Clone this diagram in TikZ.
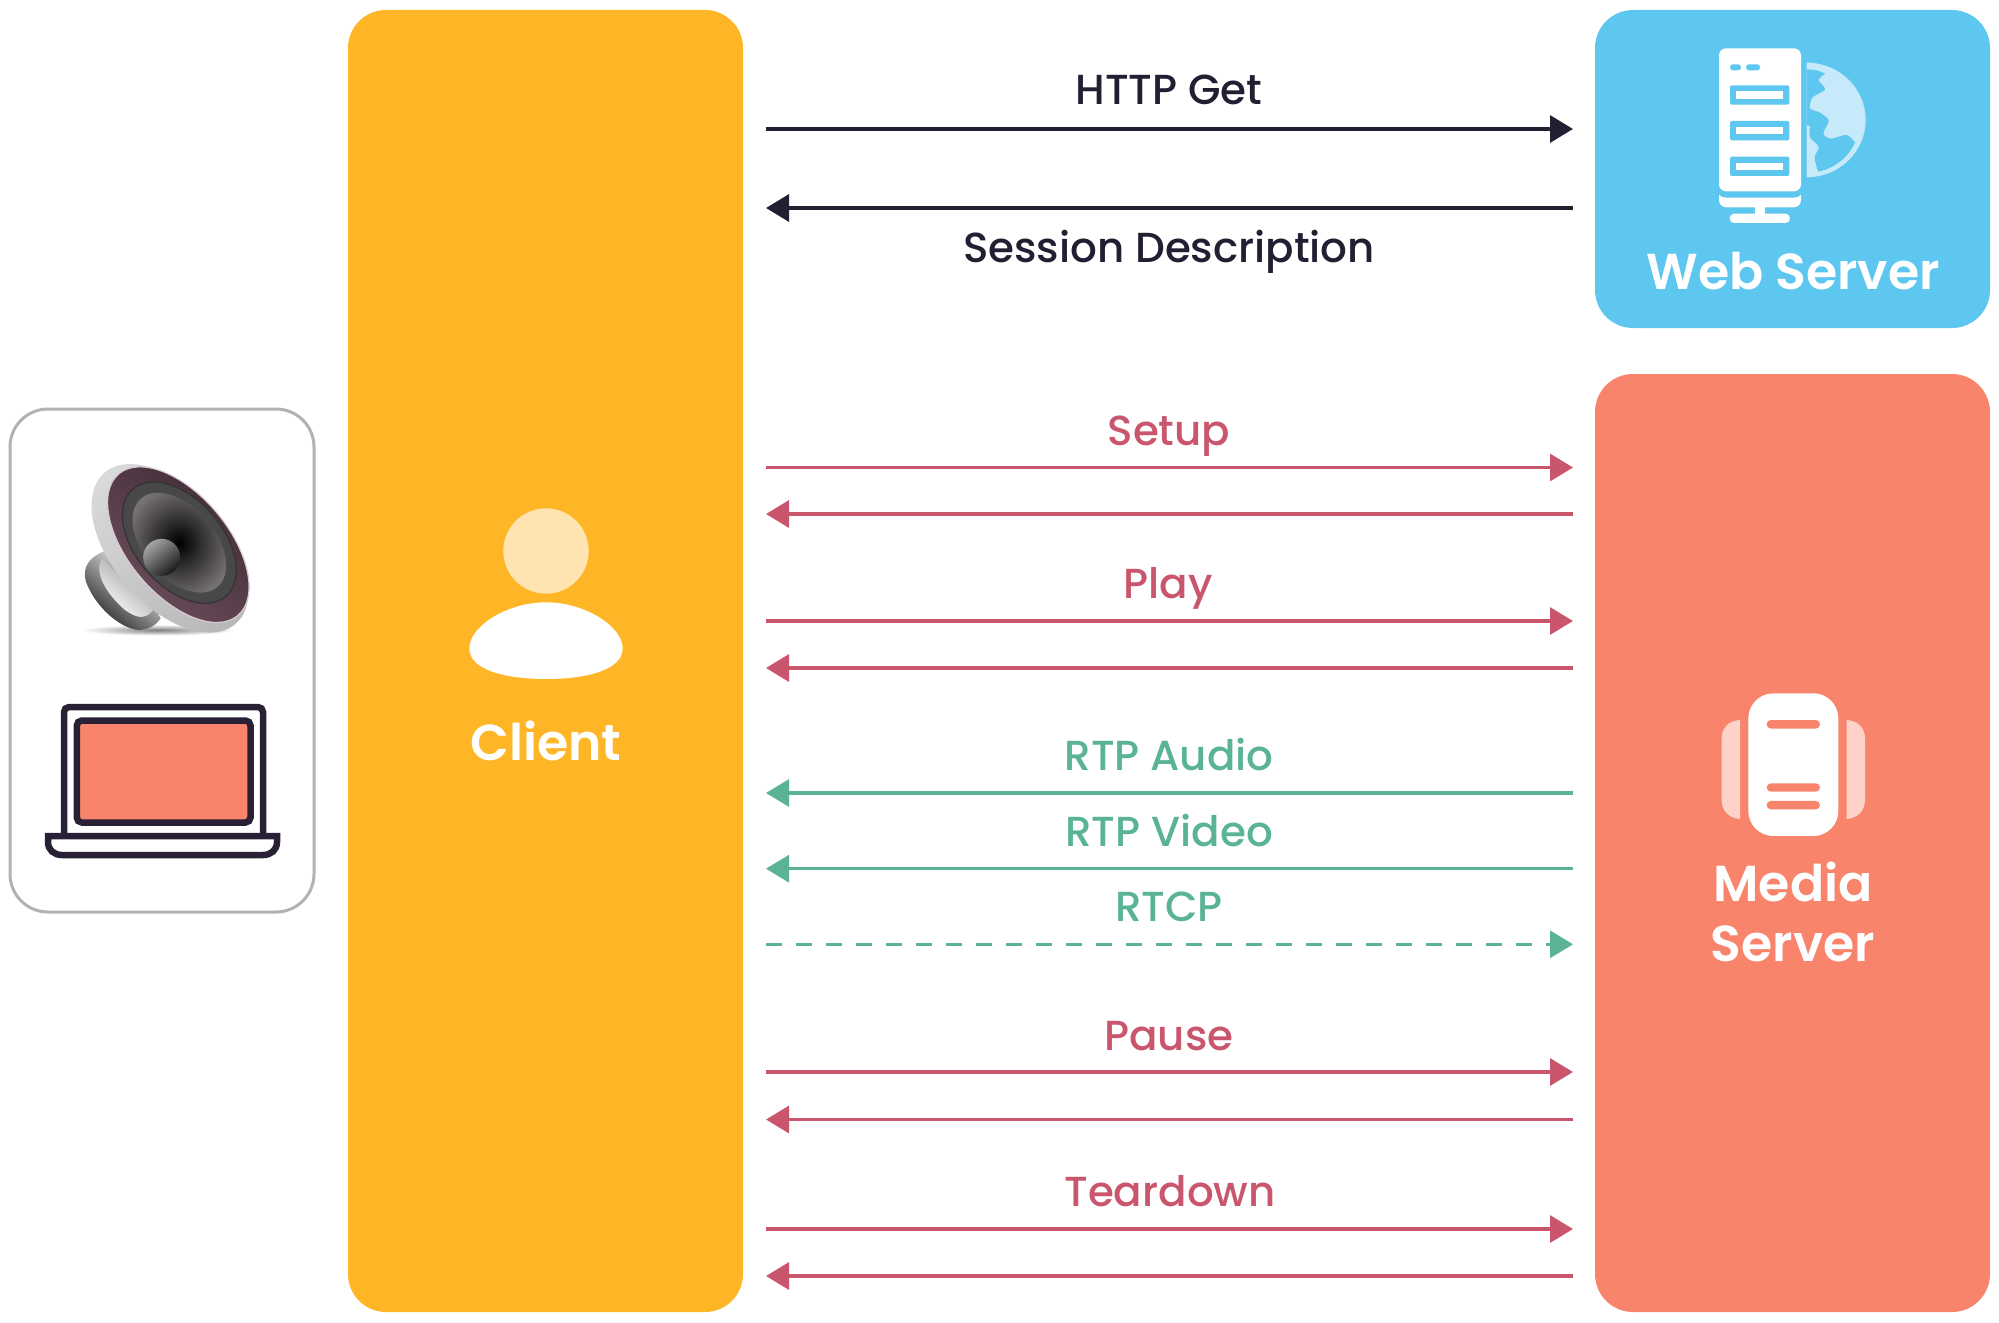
\documentclass[tikz,border=0pt]{standalone}
\usepackage{fontspec}
\setmainfont{Poppins}[UprightFont=* Medium,BoldFont=* SemiBold]
\usetikzlibrary{arrows.meta}
\definecolor{ink}{HTML}{231F33}
\definecolor{rosec}{HTML}{C9566C}
\definecolor{tealc}{HTML}{5AB396}
\definecolor{amberc}{HTML}{FEB627}
\definecolor{skyc}{HTML}{5DC7F0}
\definecolor{salmonc}{HTML}{F8846C}
\definecolor{lapink}{HTML}{2A2035}
\definecolor{paleamber}{HTML}{FFE3B0}
\definecolor{palesky}{HTML}{C6EAFA}
\definecolor{palesalmon}{HTML}{FDD2C9}
\definecolor{maroondark}{HTML}{3F2A36}
\definecolor{maroonlight}{HTML}{6E4F5D}
\definecolor{maroonedge}{HTML}{D8CBD1}
\definecolor{coneout}{HTML}{787373}
\definecolor{ringgray}{HTML}{484848}
\tikzset{
  panel/.style={rectangle,rounded corners=38pt,inner sep=0pt,draw=none},
  flow/.style={line width=3.3pt,-{Triangle[length=23pt,width=27pt]}},
  lab/.style={anchor=base,font=\fontsize{42}{48}\selectfont,inner sep=0pt},
  title/.style={anchor=base,font=\fontsize{50.5}{56}\selectfont\bfseries,text=white,inner sep=0pt},
}
\begin{document}
\begin{tikzpicture}[x=1pt,y=-1pt]
\useasboundingbox (0,0) rectangle (1999,1322);
% panels
\node[panel,fill=amberc,minimum width=395pt,minimum height=1302pt] (client) at (545.5,661) {};
\node[panel,fill=skyc,minimum width=395pt,minimum height=318pt] (web) at (1792.5,169) {};
\node[panel,fill=salmonc,minimum width=395pt,minimum height=938pt] (media) at (1792.5,843) {};
\node[panel,fill=white,draw=black!30,line width=3pt,minimum width=304pt,minimum height=503pt] (device) at (162,660.5) {};
% end points
\foreach \n/\yy in {a/129,b/208,c/467.5,d/514,e/621,f/668,g/793,h/868.7,i/944.3,j/1072,k/1119.5,l/1229,m/1276}{
  \coordinate (L\n) at (766,\yy);
  \coordinate (R\n) at (1573,\yy);
}
% connectors
\draw[flow,ink] (La) -- (Ra);
\draw[flow,ink] (Rb) -- (Lb);
\draw[flow,rosec] (Lc) -- (Rc);
\draw[flow,rosec] (Rd) -- (Ld);
\draw[flow,rosec] (Le) -- (Re);
\draw[flow,rosec] (Rf) -- (Lf);
\draw[flow,tealc] (Rg) -- (Lg);
\draw[flow,tealc] (Rh) -- (Lh);
\draw[flow,tealc,dash pattern=on 16pt off 14pt] (Li) -- (Ri);
\draw[flow,rosec] (Lj) -- (Rj);
\draw[flow,rosec] (Rk) -- (Lk);
\draw[flow,rosec] (Ll) -- (Rl);
\draw[flow,rosec] (Rm) -- (Lm);
% labels
\node[lab,text=ink] (t1) at (1169,104) {HTTP Get};
\node[lab,text=ink] (t2) at (1169,262) {Session Description};
\node[lab,text=rosec] (t3) at (1169,445) {Setup};
\node[lab,text=rosec] (t4) at (1168,598) {Play};
\node[lab,text=tealc] (t5) at (1169,770) {RTP Audio};
\node[lab,text=tealc] (t6) at (1169,846) {RTP Video};
\node[lab,text=tealc] (t7) at (1169,921) {RTCP};
\node[lab,text=rosec] (t8) at (1169,1050) {Pause};
\node[lab,text=rosec] (t9) at (1170,1206) {Teardown};
\node[title] (t10) at (546,760) {Client};
\node[title] (t11) at (1793,289) {Web Server};
\node[title] (t12) at (1793,901) {Media};
\node[title] (t13) at (1793,961) {Server};
% client icon
\begin{scope}[shift={(440pt,-480pt)},x=0.3333pt,y=-0.3333pt]
  \fill[paleamber] (318,213) circle[radius=42.7pt];
  \fill[white] (88,505) .. controls (88,440) and (200,367) .. (318,367)
    .. controls (436,367) and (548,440) .. (548,505)
    .. controls (548,570) and (440,597) .. (318,597)
    .. controls (196,597) and (88,570) .. (88,505) -- cycle;
\end{scope}
% media icon
\begin{scope}[shift={(1650pt,-670pt)},x=0.3333pt,y=-0.3333pt]
  \fill[palesalmon] (270,150) -- (270,447) .. controls (235,445) and (215,420) .. (215,390)
    -- (215,205) .. controls (215,175) and (235,152) .. (270,150) -- cycle;
  \fill[palesalmon] (590,150) -- (590,447) .. controls (625,445) and (645,420) .. (645,390)
    -- (645,205) .. controls (645,175) and (625,152) .. (590,150) -- cycle;
  \fill[white,rounded corners=25pt] (295,70) rectangle (565,498);
  \fill[salmonc,rounded corners=4.3pt] (350,150) rectangle (510,176);
  \fill[salmonc,rounded corners=4.2pt] (350,340) rectangle (510,365);
  \fill[salmonc,rounded corners=4.2pt] (350,393) rectangle (510,418);
\end{scope}
% web icon
\begin{scope}[shift={(1590pt,0pt)},x=0.3333pt,y=-0.3333pt]
  \fill[palesky] (650,188) arc[start angle=90,end angle=-90,x radius=59pt,y radius=57.3pt] -- cycle;
  \fill[skyc] plot[smooth] coordinates {(650,208) (680,211) (706,221)} -- plot[smooth] coordinates {(706,221) (686,240) (705,268) (668,292) (660,325) (690,338) (716,362) (700,400) (722,416) (770,405) (795,428)}
    arc[start angle=-25,end angle=-78,radius=52pt]
    -- plot[smooth] coordinates {(682,508) (674,472) (686,440) (660,412) (660,378)} -- (650,376) -- cycle;
  \fill[white,rounded corners=7pt] (387,145) rectangle (633,574);
  \fill[skyc,rounded corners=2.8pt] (420,193) rectangle (453,211);
  \fill[skyc,rounded corners=2.8pt] (468,193) rectangle (510,211);
  \foreach \yy in {256,363,470}{
    \fill[skyc,rounded corners=2pt] (420,\yy) rectangle (598,\yy+58);
    \fill[white] (438,\yy+18) rectangle (580,\yy+40);
  }
  \fill[white] (387,585) .. controls (395,592) and (400,593) .. (410,593) -- (610,593)
    .. controls (620,593) and (625,592) .. (633,585) -- (633,600)
    .. controls (633,615) and (622,622) .. (610,622) -- (410,622)
    .. controls (398,622) and (387,615) .. (387,600) -- cycle;
  \fill[white] (495,620) rectangle (525,645);
  \fill[white,rounded corners=4.5pt] (419,641) rectangle (600,669);
\end{scope}
% laptop
\draw[lapink,line width=6.5pt,rounded corners=5pt] (64,836) -- (64,707) -- (263,707) -- (263,836);
\draw[lapink,fill=salmonc,line width=6.5pt,rounded corners=5pt] (76.8,720.5) rectangle (250.5,822.5);
\draw[lapink,line width=6.5pt,line join=miter] (48,836) -- (277,836) -- (277,842)
    .. controls (277,850) and (271,855) .. (263,855) -- (62,855)
    .. controls (54,855) and (48,850) .. (48,842) -- cycle;
% speaker
\begin{scope}[shift={(70pt,-450pt)},x=0.3333pt,y=-0.3333pt]
  \shade[inner color=black!50,outer color=white] (265,540) ellipse[x radius=76pt,y radius=5.5pt];
  % back part
  \shade[top color=white,middle color=black!40,bottom color=black!88,shading angle=-40]
    (105,303) .. controls (60,320) and (35,350) .. (48,395)
    .. controls (75,470) and (150,535) .. (205,540)
    .. controls (235,540) and (260,525) .. (272,505) -- (200,380) -- cycle;
  \shade[left color=black!40,right color=white,shading angle=-40]
    (95,325) -- (250,480) .. controls (225,510) and (200,505) .. (165,480)
    .. controls (125,445) and (85,395) .. (88,350) -- cycle;
  % rim
  \begin{scope}[shift={(300,295)},rotate=-49]
    \shade[top color=black!15,middle color=white,bottom color=black!28,shading angle=40] (0,0) ellipse[x radius=100pt,y radius=57pt];
  \end{scope}
  % coloured ring
  \begin{scope}[shift={(325,284)},rotate=-50]
    \shade[draw=maroonedge,line width=1.2pt,top color=maroondark,bottom color=maroonlight,shading angle=-40] (0,0) ellipse[x radius=92.5pt,y radius=50pt];
  \end{scope}
  % speaker surround and cone
  \begin{scope}[shift={(328,278)},rotate=-49]
    \fill[ringgray,draw=black!80,line width=1.2pt] (0,0) ellipse[x radius=71pt,y radius=43.3pt];
    \shade[inner color=black,outer color=coneout,draw=black!70,line width=1pt] (0,0) ellipse[x radius=59pt,y radius=36pt];
  \end{scope}
  \shade[top color=black!35,bottom color=black!90,shading angle=40] (275,322) circle[radius=18.5pt];
\end{scope}
\end{tikzpicture}
\end{document}
